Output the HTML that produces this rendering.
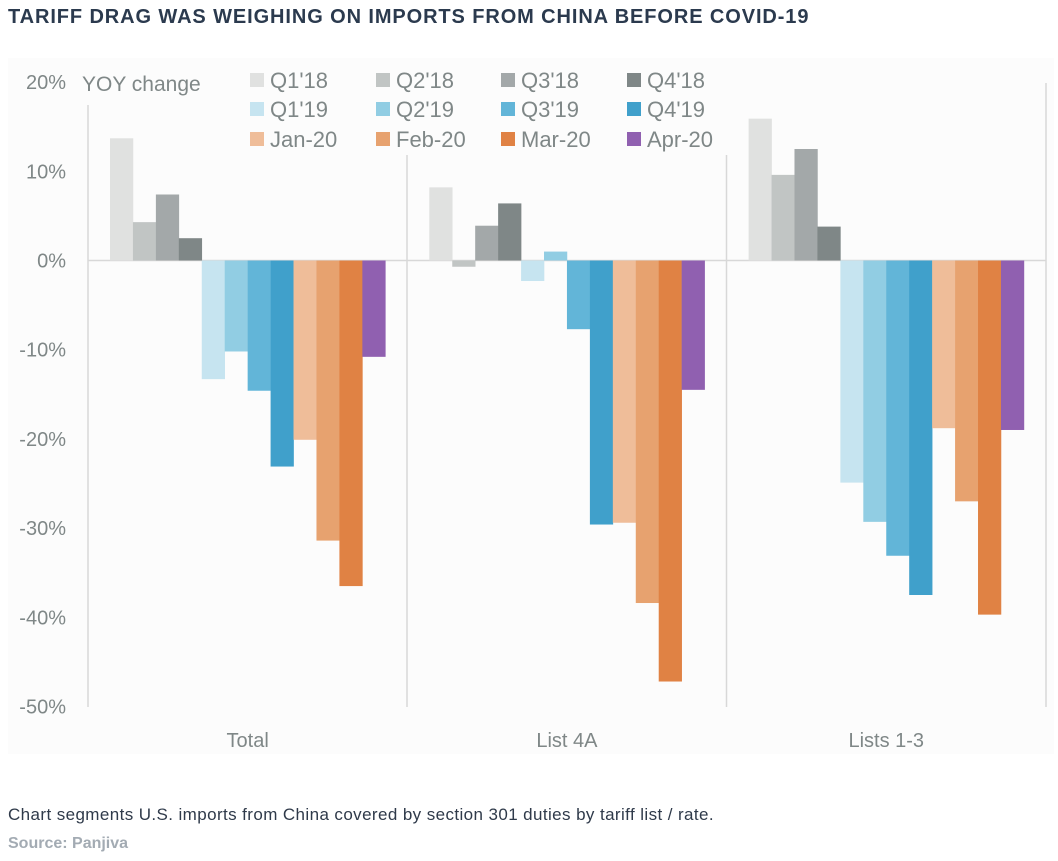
<!DOCTYPE html>
<html><head><meta charset="utf-8"><style>
body{margin:0;background:#fff;width:1058px;height:861px;overflow:hidden;font-family:"Liberation Sans",sans-serif}
.t{position:absolute;white-space:nowrap}
</style></head><body>
<div class="t" style="left:8px;top:6px;font-size:20px;font-weight:bold;color:#2b3a4e;letter-spacing:0.9px">TARIFF DRAG WAS WEIGHING ON IMPORTS FROM CHINA BEFORE COVID-19</div>
<svg style="position:absolute;left:0;top:0" width="1058" height="861" id="svg">
<rect x="8" y="58" width="1046" height="696" fill="#fcfcfc"/>
</svg>
<div class="t" style="left:8px;top:805px;font-size:17px;letter-spacing:0.4px;color:#2f3a4a">Chart segments U.S. imports from China covered by section 301 duties by tariff list / rate.</div>
<div class="t" style="left:8px;top:835px;font-size:16px;color:#a3abb3;font-weight:bold">Source: Panjiva</div>
<script>
const groups=["Total","List 4A","Lists 1-3"];
const series=["Q1'18","Q2'18","Q3'18","Q4'18","Q1'19","Q2'19","Q3'19","Q4'19","Jan-20","Feb-20","Mar-20","Apr-20"];
const colors=["#e0e1e0","#c1c5c4","#a3a8a9","#7f8787","#c6e4f0","#91cde3","#62b5d8","#40a0cb","#efbd99","#e7a26f","#e08244","#9060b0"];
const valTotal=[13.7,4.3,7.4,2.5,-13.3,-10.2,-14.6,-23.1,-20.1,-31.4,-36.5,-10.8];
const valList4A=[8.2,-0.7,3.9,6.4,-2.3,1.0,-7.7,-29.6,-29.4,-38.4,-47.2,-14.5];
const valLists13=[15.9,9.6,12.5,3.8,-24.9,-29.3,-33.1,-37.5,-18.8,-27.0,-39.7,-19.0];
const ticks=[20,10,0,-10,-20,-30,-40,-50];
const values=[valTotal,valList4A,valLists13];
const NS="http://www.w3.org/2000/svg",svg=document.getElementById('svg');
const y=v=>260.5-v*8.92;
const gx0=88,gw=319.3,pad=22,bw=(gw-2*pad)/12;
function el(t,a,txt){const e=document.createElementNS(NS,t);for(const k in a)e.setAttribute(k,a[k]);if(txt!=null)e.textContent=txt;svg.appendChild(e);return e;}
ticks.forEach(t=>{const e=el('text',{x:66,y:y(t)+7,'text-anchor':'end','font-size':20,fill:'#7f8787','font-family':'Liberation Sans, sans-serif'},t+'%');

});
const yl=el('text',{x:82,y:91,'font-size':21,fill:'#7f8787'},'YOY change');


[[88,105],[407,155],[726.5,155],[1046,83]].forEach(d=>{const l=el('line',{x1:d[0],x2:d[0],y1:d[1],y2:707,stroke:'#d8d8d8','stroke-width':1.5});

});
const z=el('line',{x1:88,x2:1046,y1:y(0),y2:y(0),stroke:'#d8d8d8','stroke-width':1.5});


groups.forEach((g,gi)=>{
 const x0=gx0+gi*gw+pad;
 values[gi].forEach((v,si)=>{
  const r=el('rect',{x:x0+si*bw,y:Math.min(y(v),y(0)),width:bw+0.3,height:Math.abs(y(v)-y(0)),fill:colors[si]});
  
  
 });
 const c=el('text',{x:gx0+gi*gw+gw/2,y:747,'text-anchor':'middle','font-size':20,fill:'#7f8787'},g);
 
 
});
const lx=[250,376,501,627];
series.forEach((s,i)=>{
 const cx=lx[i%4],ry=[80,109,139][Math.floor(i/4)];
 const sw=el('rect',{x:cx,y:ry-7,width:14,height:14,fill:colors[i]});
 
 
 const t=el('text',{x:cx+20,y:ry+8,'font-size':22,fill:'#7f8787'},s);
 
 
});
</script>
</body></html>
